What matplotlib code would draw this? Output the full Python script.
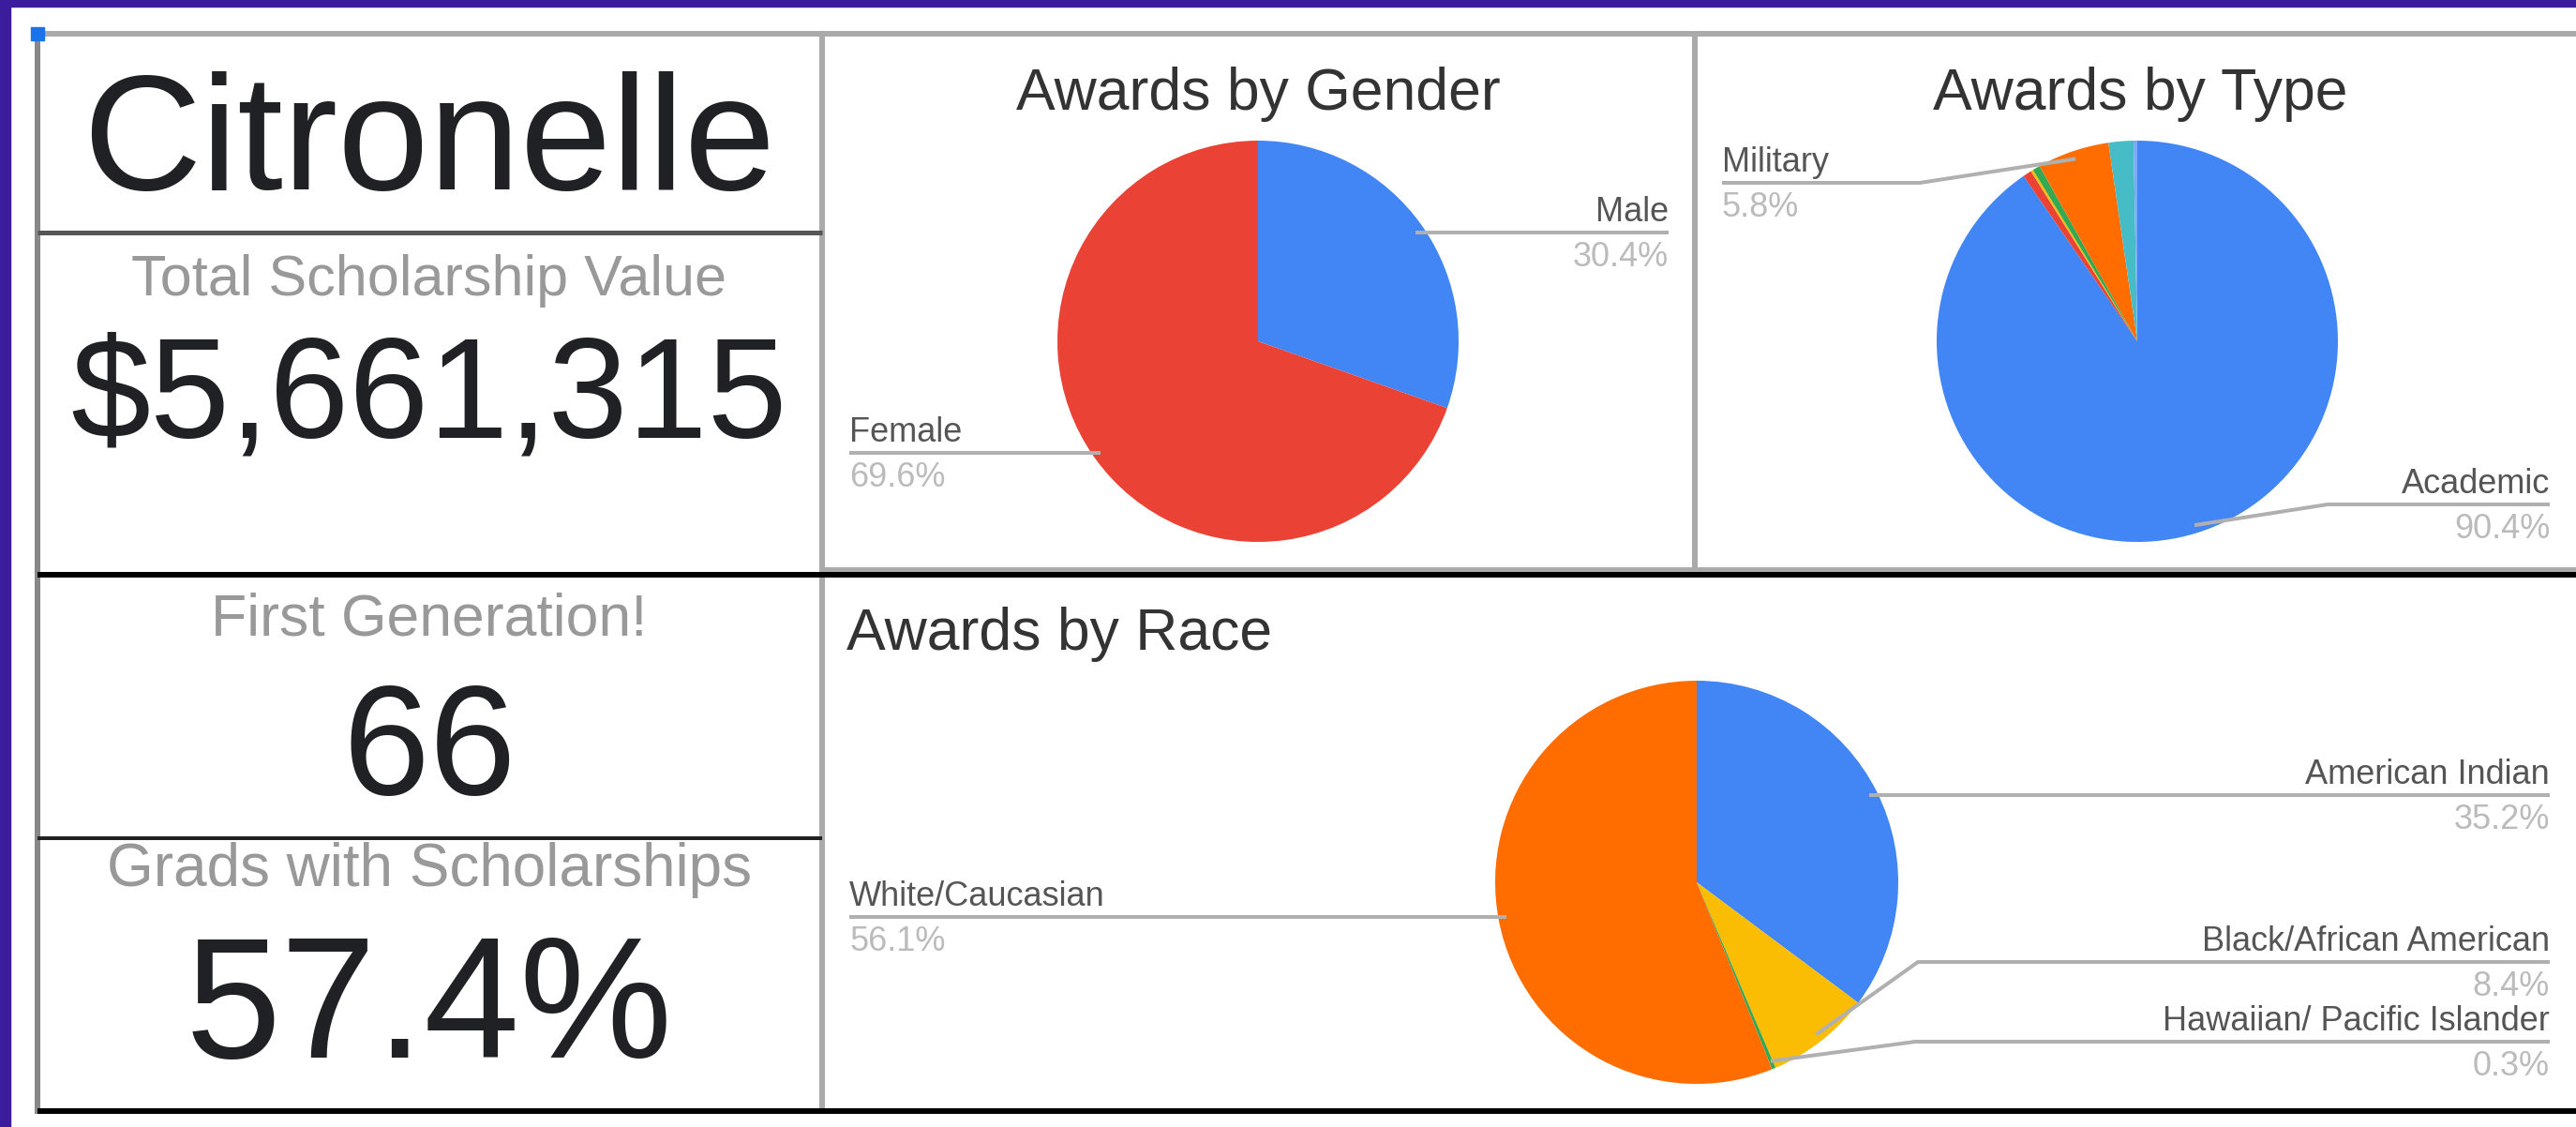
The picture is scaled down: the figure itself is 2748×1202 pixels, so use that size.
import numpy as np
import matplotlib
matplotlib.use("Agg")
import matplotlib.pyplot as plt
from matplotlib.patches import Rectangle

plt.rcParams["font.family"] = ["Liberation Sans", "DejaVu Sans"]

W, H = 2748, 1202
PX = 0.72  # points per pixel at dpi 100

# ---- data ----
school = "Citronelle"
total_value = "$5,661,315"
first_gen = "66"
grads_pct = "57.4%"

gender_names = ["Male", "Female"]
gender_vals = [30.4, 69.6]
gender_colors = ["#4285F4", "#EA4335"]

type_names = ["Academic", "Athletic", "Arts", "Community", "Military", "Leadership", "Other"]
type_vals = [90.4, 0.7, 0.2, 0.6, 5.8, 2.0, 0.3]
type_colors = ["#4285F4", "#EA4335", "#FBBC04", "#34A853", "#FF6D01", "#46BDC6", "#7BAAF7"]

race_names = ["American Indian", "Black/African American", "Hawaiian/ Pacific Islander", "White/Caucasian"]
race_vals = [35.2, 8.4, 0.3, 56.1]
race_colors = ["#4285F4", "#FBBC04", "#34A853", "#FF6D01"]

# label layout: name -> (side, line y, bend x or None, text x)
gender_lbl = {"Male": ("r", 248, None, 1780), "Female": ("l", 483, None, 906)}
type_lbl = {"Academic": ("r", 538, 2483, 2720), "Military": ("l", 195, 2048, 1837)}
race_lbl = {"American Indian": ("r", 848, None, 2720),
            "White/Caucasian": ("l", 978, None, 906),
            "Black/African American": ("r", 1026, 2046, 2720),
            "Hawaiian/ Pacific Islander": ("r", 1111, 2043, 2720)}

fig = plt.figure(figsize=(W / 100, H / 100), dpi=100)
ax = fig.add_axes([0, 0, 1, 1])
fig.patch.set_facecolor("white")


def hline(y, x0, x1, c, w):
    ax.plot([x0, x1], [y, y], color=c, lw=w * PX, solid_capstyle="butt", zorder=3)


def vline(x, y0, y1, c, w):
    ax.plot([x, x], [y0, y1], color=c, lw=w * PX, solid_capstyle="butt", zorder=3)


def pie(names, vals, colors, cx, cy, r, labels):
    # y axis is inverted, so counterclockwise in data = clockwise on screen
    ax.pie(vals, colors=colors, center=(cx, cy), radius=r, startangle=-90,
           counterclock=True, wedgeprops=dict(linewidth=0))
    tot = sum(vals)
    cum = 0
    for n, v in zip(names, vals):
        mid = (cum + v / 2) / tot * 2 * np.pi
        cum += v
        if n not in labels:
            continue
        side, ly, bx, tx = labels[n]
        px, py = cx + 0.96 * r * np.sin(mid), cy - 0.96 * r * np.cos(mid)
        if bx is None:
            xs, ys = [px, tx], [ly, ly]
        else:
            xs, ys = [px, bx, tx], [py, ly, ly]
        ax.plot(xs, ys, color="#b0b0b0", lw=4 * PX, zorder=4, solid_capstyle="butt")
        ha = "right" if side == "r" else "left"
        ax.text(tx, ly - 12, n, ha=ha, va="baseline", fontsize=26, color="#555555", zorder=5)
        ax.text(tx, ly + 36, f"{v / tot * 100:.1f}%", ha=ha, va="baseline",
                fontsize=26, color="#bbbbbb", zorder=5)


pie(gender_names, gender_vals, gender_colors, 1342, 364, 214, gender_lbl)
pie(type_names, type_vals, type_colors, 2280, 364, 214, type_lbl)
pie(race_names, race_vals, race_colors, 1810, 941, 215, race_lbl)

# table frame
hline(36, 37, W, "#aaaaaa", 6)
vline(40, 33, 1188, "#888888", 6)
vline(877, 36, 1188, "#aaaaaa", 6)
vline(1808, 36, 607, "#aaaaaa", 6)
hline(248, 40, 877, "#555555", 5)
hline(607, 877, W, "#aaaaaa", 5)
hline(613, 40, W, "#000000", 6)
hline(894, 40, 877, "#222222", 4)
hline(1185, 40, W, "#000000", 6)

# purple window border and selection handle
ax.add_patch(Rectangle((0, 0), 11, H, color="#3A1C9C", zorder=6))
ax.add_patch(Rectangle((0, 0), W, 7, color="#3A1C9C", zorder=6))
ax.add_patch(Rectangle((33, 29), 14, 14, color="#1a73e8", zorder=7))

# left column texts
cx = 458
ax.text(cx, 202, school, ha="center", va="baseline", fontsize=126, color="#202124")
ax.text(cx, 315, "Total Scholarship Value", ha="center", va="baseline", fontsize=44, color="#999999")
ax.text(cx, 466, total_value, ha="center", va="baseline", fontsize=110, color="#202124")
ax.text(cx, 678, "First Generation!", ha="center", va="baseline", fontsize=45, color="#999999")
ax.text(cx, 847, first_gen, ha="center", va="baseline", fontsize=120, color="#202124")
ax.text(cx, 945, "Grads with Scholarships", ha="center", va="baseline", fontsize=46, color="#999999")
ax.text(cx, 1128, grads_pct, ha="center", va="baseline", fontsize=132, color="#202124")

# chart titles
ax.text(1342, 117, "Awards by Gender", ha="center", va="baseline", fontsize=45, color="#333333")
ax.text(2283, 117, "Awards by Type", ha="center", va="baseline", fontsize=45, color="#333333")
ax.text(903, 693, "Awards by Race", ha="left", va="baseline", fontsize=45, color="#333333")

ax.set_xlim(0, W)
ax.set_ylim(H, 0)
ax.set_aspect("auto")
ax.axis("off")
fig.savefig("out.png", dpi=100, facecolor="white")
